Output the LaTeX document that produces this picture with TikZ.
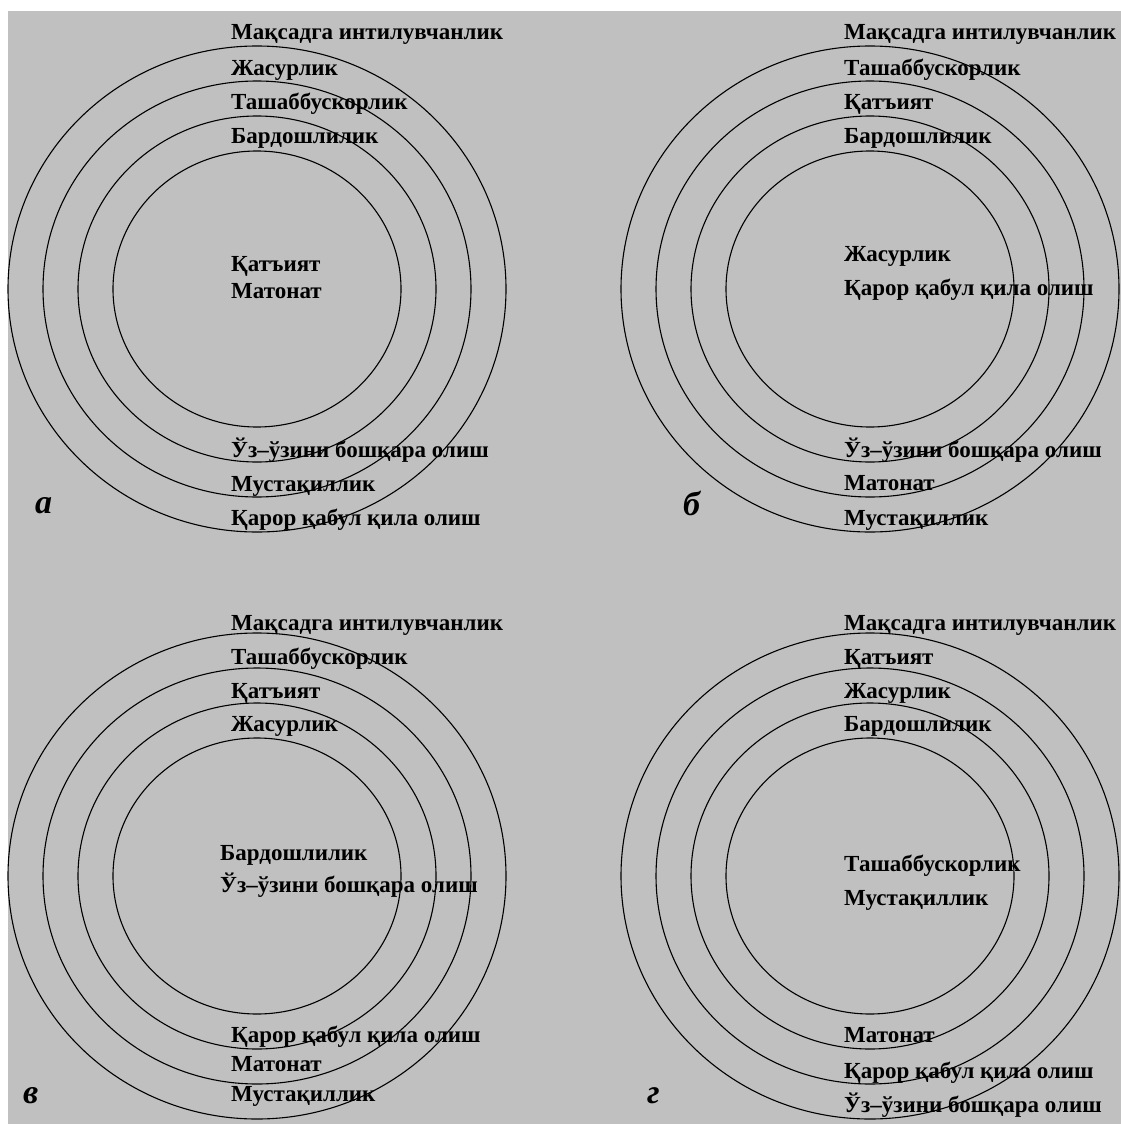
\documentclass[tikz,border=0pt]{standalone}
\usepackage{fontspec}
\setmainfont{Liberation Serif}
\definecolor{fon}{RGB}{192,192,192}
\tikzstyle{sifat}=[anchor=base west, inner sep=0pt, font=\fontsize{23}{27}\selectfont\bfseries]
\tikzstyle{harf}=[anchor=base west, inner sep=0pt, font=\fontsize{34}{40}\selectfont\bfseries\itshape]
\tikzstyle{halqa}=[draw=black, line width=1.1pt]
\newcommand{\sifat}{\node[sifat]}
\newcommand{\harf}{\node[harf]}

\begin{document}
\begin{tikzpicture}[x=1pt, y=-1pt]
	\useasboundingbox (0,0) rectangle (1121,1124);
	\fill[fon] (8,11) rectangle (1121,1124);
	% four rings in every panel
	\foreach \cx/\cy in {257/289, 870/289, 257/876, 870/876}
		\foreach \k in {0,...,3}
			\draw[halqa] (\cx,\cy) ellipse [x radius={(249-35*\k)*1pt}, y radius={(243-35*\k)*1pt}];
	% panel a
	\sifat (a1) at (231,40) {Мақсадга интилувчанлик};
	\sifat (a2) at (231,75) {Жасурлик};
	\sifat (a3) at (231,109) {Ташаббускорлик};
	\sifat (a4) at (231,143) {Бардошлилик};
	\sifat (a5) at (231,271) {Қатъият};
	\sifat (a6) at (231,298) {Матонат};
	\sifat (a7) at (231,457) {Ўз–ўзини бошқара олиш};
	\sifat (a8) at (231,491) {Мустақиллик};
	\sifat (a9) at (231,525) {Қарор қабул қила олиш};
	\harf (ha) at (35,513) {а};
	% panel b
	\sifat (b1) at (844,40) {Мақсадга интилувчанлик};
	\sifat (b2) at (844,75) {Ташаббускорлик};
	\sifat (b3) at (844,109) {Қатъият};
	\sifat (b4) at (844,143) {Бардошлилик};
	\sifat (b5) at (844,261) {Жасурлик};
	\sifat (b6) at (844,295) {Қарор қабул қила олиш};
	\sifat (b7) at (844,457) {Ўз–ўзини бошқара олиш};
	\sifat (b8) at (844,490) {Матонат};
	\sifat (b9) at (844,525) {Мустақиллик};
	\harf (hb) at (683,515) {б};
	% panel v
	\sifat (v1) at (231,630) {Мақсадга интилувчанлик};
	\sifat (v2) at (231,664) {Ташаббускорлик};
	\sifat (v3) at (231,698) {Қатъият};
	\sifat (v4) at (231,731) {Жасурлик};
	\sifat (v5) at (220,860) {Бардошлилик};
	\sifat (v6) at (220,892) {Ўз–ўзини бошқара олиш};
	\sifat (v7) at (231,1042) {Қарор қабул қила олиш};
	\sifat (v8) at (231,1071) {Матонат};
	\sifat (v9) at (231,1101) {Мустақиллик};
	\harf (hv) at (23,1103) {в};
	% panel g
	\sifat (g1) at (844,630) {Мақсадга интилувчанлик};
	\sifat (g2) at (844,664) {Қатъият};
	\sifat (g3) at (844,698) {Жасурлик};
	\sifat (g4) at (844,731) {Бардошлилик};
	\sifat (g5) at (844,871) {Ташаббускорлик};
	\sifat (g6) at (844,905) {Мустақиллик};
	\sifat (g7) at (844,1042) {Матонат};
	\sifat (g8) at (844,1078) {Қарор қабул қила олиш};
	\sifat (g9) at (844,1112) {Ўз–ўзини бошқара олиш};
	\harf (hg) at (647,1103) {г};
\end{tikzpicture}
\end{document}
